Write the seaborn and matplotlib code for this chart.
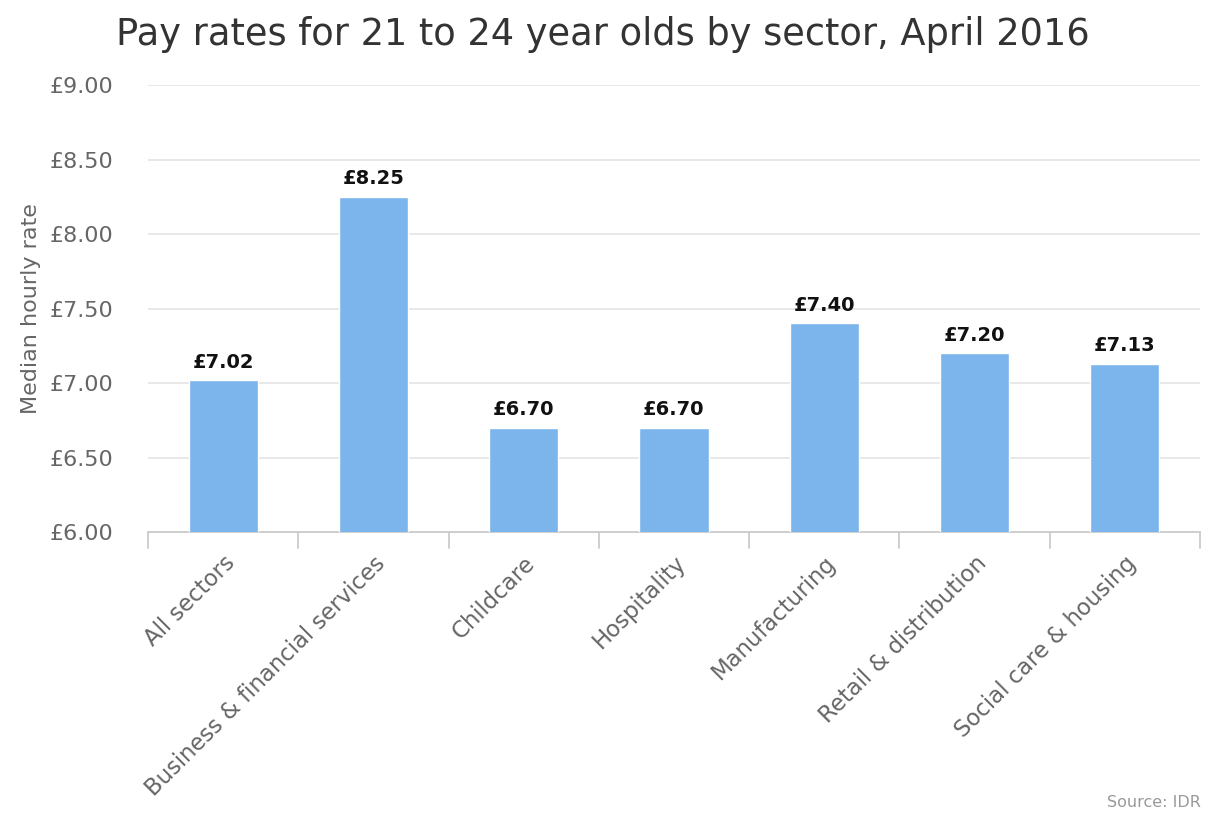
import matplotlib
matplotlib.use("Agg")
import matplotlib.pyplot as plt
import seaborn as sns
import pandas as pd
import numpy as np

# Median hourly pay for 21-24 year olds, April 2016
sectors = ["All sectors", "Business & financial services", "Childcare", "Hospitality",
           "Manufacturing", "Retail & distribution", "Social care & housing"]
rates = [7.02, 8.25, 6.70, 6.70, 7.40, 7.20, 7.13]
y_ticks = [6.00, 6.50, 7.00, 7.50, 8.00, 8.50, 9.00]

sns.set_theme(style="white")
plt.rcParams["font.family"] = ["DejaVu Sans"]

df = pd.DataFrame({"sector": sectors, "rate": rates})

fig = plt.figure(figsize=(12.06, 8.18), dpi=100)
ax = fig.add_axes([0.1227, 0.3496, 0.8723, 0.5464])

sns.barplot(data=df, x="sector", y="rate", color="#7cb5ec", saturation=1,
            width=0.46, ax=ax, zorder=3)

ax.set_ylim(6.0, 9.0)
ax.set_xlim(-0.5, len(sectors) - 0.5)
ax.set_yticks(y_ticks)
ax.set_yticklabels([f"£{v:.2f}" for v in y_ticks], color="#666666", fontsize=16)
ax.yaxis.grid(True, color="#e6e6e6", linewidth=1.3, zorder=0)
ax.tick_params(axis="y", length=0, pad=25)

# category labels rotated, with tick marks on category boundaries
ax.set_xticks(range(len(sectors)))
ax.set_xticklabels(sectors, rotation=45, ha="right", rotation_mode="anchor",
                   color="#666666", fontsize=16.4)
ax.tick_params(axis="x", length=0, pad=14)
for b in np.arange(-0.5, len(sectors), 1.0):
    ax.plot([b, b], [0, -0.035], transform=ax.get_xaxis_transform(),
            color="#cccccc", linewidth=1.3, clip_on=False)

for s in ["top", "right", "left"]:
    ax.spines[s].set_visible(False)
ax.spines["bottom"].set_color("#cccccc")
ax.spines["bottom"].set_linewidth(1.3)

ax.set_xlabel("")
ax.set_ylabel("Median hourly rate", color="#666666", fontsize=16, labelpad=6)

for i, v in enumerate(rates):
    ax.annotate(f"£{v:.2f}", (i, v), xytext=(0, 6), textcoords="offset points",
                ha="center", va="bottom", fontsize=14, fontweight="bold",
                color="#111111")

fig.suptitle("Pay rates for 21 to 24 year olds by sector, April 2016",
             x=0.5, y=0.98, fontsize=26.5, color="#333333")
fig.text(0.996, 0.01, "Source: IDR", ha="right", va="bottom",
         fontsize=11.5, color="#999999")

fig.savefig("out.png", dpi=100, facecolor="white")
